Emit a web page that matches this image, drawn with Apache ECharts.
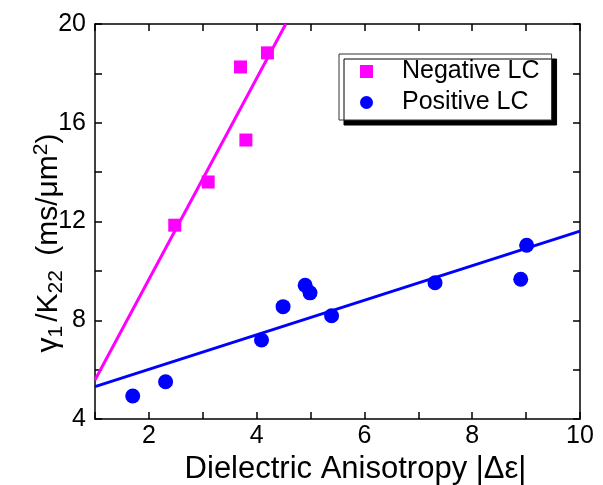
<!DOCTYPE html>
<html>
<head>
<meta charset="utf-8">
<script src="https://cdn.jsdelivr.net/npm/echarts@6/dist/echarts.min.js"></script>
<style>html,body{margin:0;padding:0;background:#fff}#c{width:603px;height:485px}</style>
</head>
<body>
<div id="c"></div>
<script>
// Data
const negX = [2.48, 3.10, 3.70, 3.80, 4.20];
const negY = [11.85, 13.6, 18.26, 15.3, 18.83];
const posX = [1.70, 2.31, 4.09, 4.49, 4.90, 4.99, 5.39, 7.31, 8.90, 9.01];
const posY = [4.93, 5.51, 7.20, 8.55, 9.42, 9.11, 8.18, 9.52, 9.66, 11.04];
const negFitX = [1, 4.54];
const negFitY = [5.58, 20];
const posFitX = [1, 10];
const posFitY = [5.31, 11.61];
const xTicks = [2, 4, 6, 8, 10];
const yTicks = [4, 8, 12, 16, 20];

const pairs = (xs, ys) => xs.map((x, i) => [x, ys[i]]);
const font = 'Liberation Sans, Arial, sans-serif';
const black = '#000';

const chart = echarts.init(document.getElementById('c'), null, {renderer: 'canvas'});
const axisCommon = {
  axisLine: {show: true, onZero: false, lineStyle: {color: black, width: 1.5}},
  axisTick: {show: true, inside: true, length: 7, lineStyle: {color: black, width: 1.5}},
  splitLine: {show: false}
};
chart.setOption({
  animation: false,
  backgroundColor: '#fff',
  grid: {left: 95, right: 23, top: 24, bottom: 66, containLabel: false, outerBoundsMode: 'none'},
  legend: {
    orient: 'vertical',
    left: 339, top: 54,
    backgroundColor: '#fff',
    borderColor: '#333', borderWidth: 1,
    shadowColor: black, shadowBlur: 0, shadowOffsetX: 5, shadowOffsetY: 5,
    padding: [5, 12, 5, 21],
    itemWidth: 13, itemHeight: 13, itemGap: 6,
    textStyle: {fontFamily: font, fontSize: 25, color: black, padding: [0, 0, 0, 24]},
    data: [{name: 'Negative LC', icon: 'rect'}, {name: 'Positive LC', icon: 'circle'}]
  },
  xAxis: [{
    type: 'value', min: 1, max: 10, interval: 1, position: 'bottom',
    ...axisCommon,
    axisLabel: {fontFamily: font, fontSize: 25, color: black, margin: 5,
      formatter: v => xTicks.includes(v) ? String(v) : ''},
    name: 'Dielectric Anisotropy |Δε|', nameLocation: 'middle', nameGap: 34,
    nameTextStyle: {fontFamily: font, fontSize: 31, color: black, padding: [0, 0, 0, 36]}
  }, {
    type: 'value', min: 1, max: 10, interval: 1, position: 'top',
    ...axisCommon, axisLabel: {show: false}
  }],
  yAxis: [{
    type: 'value', min: 4, max: 20, interval: 2, position: 'left',
    ...axisCommon,
    axisLabel: {fontFamily: font, fontSize: 25, color: black, margin: 9,
      formatter: v => yTicks.includes(v) ? String(v) : ''},
    name: '{g|γ}{s1|1}{m|/K}{s2|22}{m| (ms/μm}{p|2}{m|)}',
    nameLocation: 'middle', nameGap: 28, nameRotate: 90, nameMoveOverlap: false,
    nameTextStyle: {
      fontFamily: font, fontSize: 30, color: black, padding: [0, 45, 0, 0],
      rich: {
        g: {fontFamily: font, fontSize: 30, color: black, padding: [0, 0, 0, 2]},
        m: {fontFamily: font, fontSize: 30, color: black},
        s1: {fontFamily: font, fontSize: 21, color: black, padding: [15, 4, 0, 0]},
        s2: {fontFamily: font, fontSize: 21, color: black, padding: [15, 6, 0, 0]},
        p: {fontFamily: font, fontSize: 21, color: black, padding: [0, 0, 15, 0]}
      }
    }
  }, {
    type: 'value', min: 4, max: 20, interval: 2, position: 'right',
    ...axisCommon, axisLabel: {show: false}
  }],
  series: [
    {name: 'negfit', type: 'line', data: pairs(negFitX, negFitY), symbol: 'none',
      lineStyle: {color: '#ff00ff', width: 3}, itemStyle: {color: '#ff00ff'}, silent: true, z: 2},
    {name: 'posfit', type: 'line', data: pairs(posFitX, posFitY), symbol: 'none',
      lineStyle: {color: '#0000ff', width: 3}, itemStyle: {color: '#0000ff'}, silent: true, z: 2},
    {name: 'Negative LC', type: 'scatter', data: pairs(negX, negY), symbol: 'rect', symbolSize: 13,
      itemStyle: {color: '#ff00ff', opacity: 1}, z: 3},
    {name: 'Positive LC', type: 'scatter', data: pairs(posX, posY), symbol: 'circle', symbolSize: 15,
      itemStyle: {color: '#0000ff', opacity: 1}, z: 3}
  ]
});
</script>
</body>
</html>
